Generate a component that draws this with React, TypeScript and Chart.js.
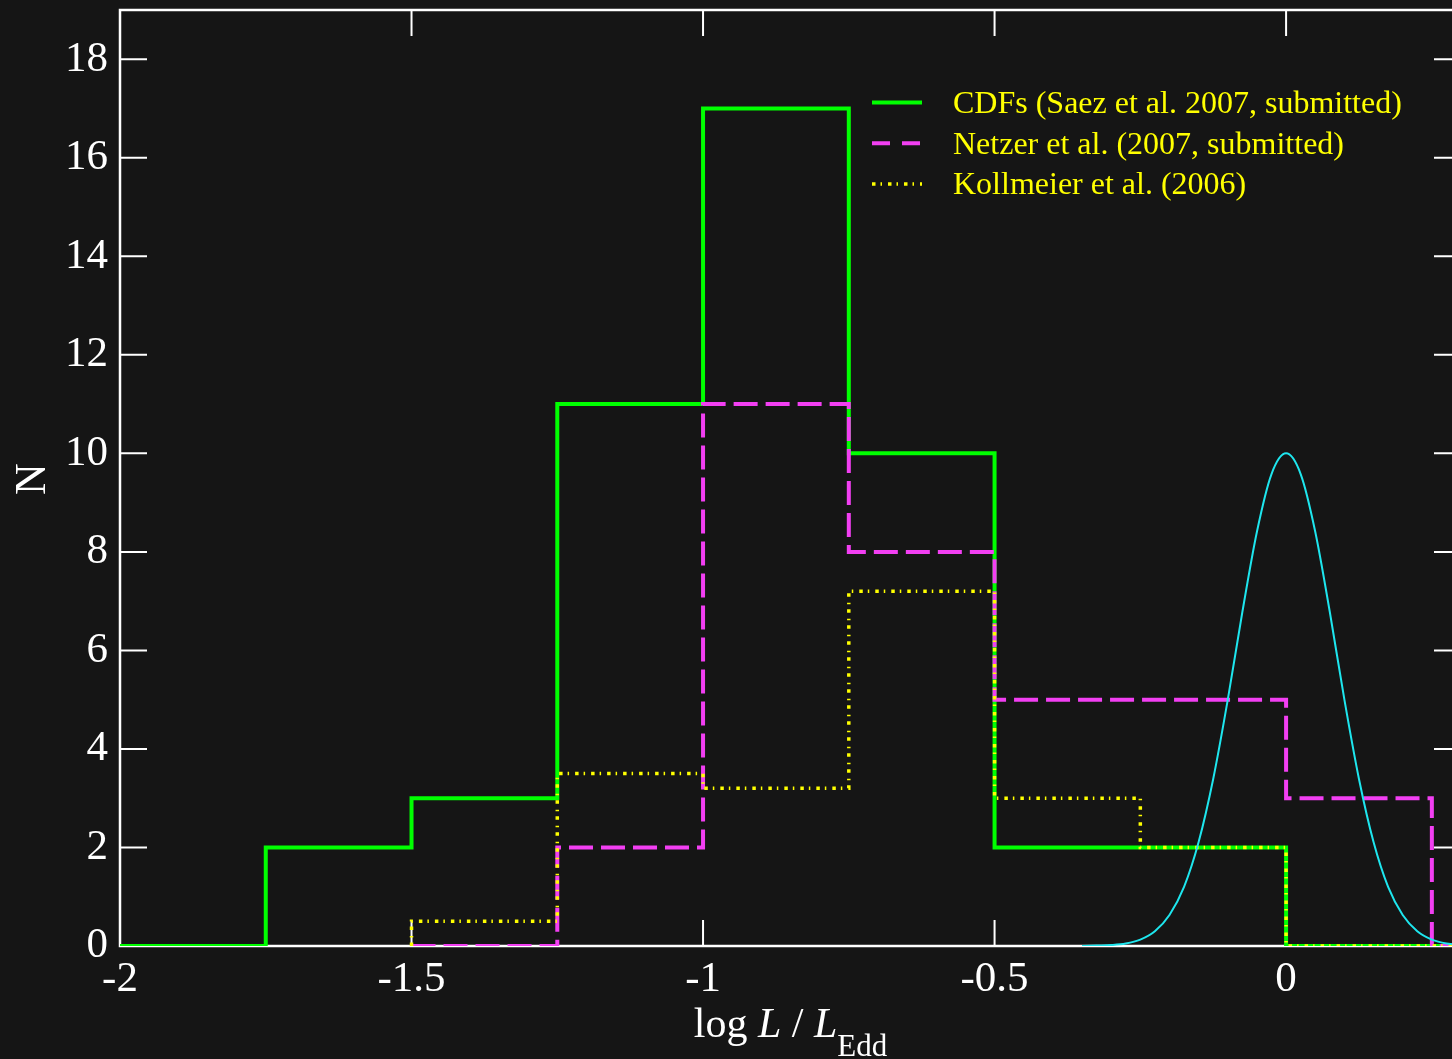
import React, { useEffect, useRef } from 'react';
import { Chart, registerables } from 'chart.js';

Chart.register(...registerables);

// ---------- data ----------
const cdfsEdges = [-2, -1.75, -1.5, -1.25, -1, -0.75, -0.5, -0.25, 0, 0.25, 0.3];
const cdfsCounts = [0, 2, 3, 11, 17, 10, 2, 2, 0, 0];

const netzerEdges = [-1.5, -1.25, -1, -0.75, -0.5, -0.25, 0, 0.25, 0.3];
const netzerCounts = [0, 2, 11, 8, 5, 5, 3, 0];

const kollmeierEdges = [-1.5, -1.25, -1, -0.75, -0.5, -0.25, 0, 0.25, 0.3];
const kollmeierCounts = [0.5, 3.5, 3.2, 7.2, 3, 2, 0, 0];

const curveX = [
  -0.35, -0.325, -0.3, -0.275, -0.25, -0.225, -0.2, -0.175, -0.15, -0.125, -0.1, -0.075, -0.05, -0.025,
  0, 0.025, 0.05, 0.075, 0.1, 0.125, 0.15, 0.175, 0.2, 0.225, 0.25, 0.275, 0.3,
];
const curveY = [
  0.0, 0.01, 0.02, 0.05, 0.13, 0.3, 0.63, 1.2, 2.11, 3.39, 5.0, 6.78, 8.41, 9.58,
  10.0, 9.58, 8.41, 6.78, 5.0, 3.39, 2.11, 1.2, 0.63, 0.3, 0.13, 0.05, 0.02,
];

const xTickLabels = [-2, -1.5, -1, -0.5, 0];
const yTickLabels = [0, 2, 4, 6, 8, 10, 12, 14, 16, 18];
const legendLabels = [
  'CDFs (Saez et al. 2007, submitted)',
  'Netzer et al. (2007, submitted)',
  'Kollmeier et al. (2006)',
];

// ---------- helpers ----------
function histPoints(edges: number[], counts: number[], startAtZero: boolean) {
  const pts: { x: number; y: number }[] = [];
  if (startAtZero) pts.push({ x: edges[0], y: 0 });
  counts.forEach((c, i) => {
    pts.push({ x: edges[i], y: c });
    pts.push({ x: edges[i + 1], y: c });
  });
  return pts;
}

const SERIF = '"Liberation Serif", "Times New Roman", Times, serif';
const GREEN = '#00ff00';
const MAGENTA = '#f23ff2';
const YELLOW = '#ffff00';
const CYAN = '#1ee6ee';
const MAGENTA_DASH = [24, 8];
const YELLOW_DASH = [3.5, 5, 1.5, 6];

const decorPlugin = {
  id: 'decor',
  beforeDatasetsDraw(chart: any) {
    const { ctx, chartArea: a, scales } = chart;
    ctx.save();
    ctx.strokeStyle = '#ffffff';
    ctx.lineWidth = 2;
    const xs = scales.x;
    xs.ticks.forEach((t: any) => {
      const px = xs.getPixelForValue(t.value);
      const major = xTickLabels.some((v) => Math.abs(v - t.value) < 1e-9);
      const len = major ? 26 : 13;
      ctx.beginPath();
      ctx.moveTo(px, a.bottom);
      ctx.lineTo(px, a.bottom - len);
      ctx.moveTo(px, a.top);
      ctx.lineTo(px, a.top + len);
      ctx.stroke();
    });
    const ys = scales.y;
    ys.ticks.forEach((t: any) => {
      const py = ys.getPixelForValue(t.value);
      const major = yTickLabels.some((v) => Math.abs(v - t.value) < 1e-9);
      const len = major ? 27 : 14;
      ctx.beginPath();
      ctx.moveTo(a.left, py);
      ctx.lineTo(a.left + len, py);
      ctx.moveTo(a.right, py);
      ctx.lineTo(a.right - len, py);
      ctx.stroke();
    });
    ctx.lineWidth = 2.5;
    ctx.strokeRect(a.left, a.top, a.right - a.left, a.bottom - a.top);
    ctx.restore();
  },
  afterDatasetsDraw(chart: any) {
    const { ctx } = chart;
    ctx.save();
    const styles = [
      { color: GREEN, dash: [] as number[], width: 4 },
      { color: MAGENTA, dash: [18, 12], width: 4 },
      { color: YELLOW, dash: YELLOW_DASH, width: 3.5 },
    ];
    const lx0 = 872;
    const lx1 = 922;
    const tx = 953;
    const y0 = 102;
    const dy = 40.7;
    ctx.font = `32px ${SERIF}`;
    ctx.textAlign = 'left';
    ctx.textBaseline = 'alphabetic';
    legendLabels.forEach((label, i) => {
      const y = y0 + i * dy;
      const s = styles[i];
      ctx.strokeStyle = s.color;
      ctx.lineWidth = s.width;
      ctx.setLineDash(s.dash);
      ctx.beginPath();
      ctx.moveTo(lx0, y + 0.5);
      ctx.lineTo(lx1, y + 0.5);
      ctx.stroke();
      ctx.setLineDash([]);
      ctx.fillStyle = YELLOW;
      ctx.fillText(label, tx, y + 11);
    });
    ctx.restore();
  },
  afterDraw(chart: any) {
    const { ctx, chartArea: a } = chart;
    ctx.save();
    ctx.fillStyle = '#ffffff';
    ctx.font = `44px ${SERIF}`;
    ctx.textAlign = 'center';
    ctx.textBaseline = 'middle';
    ctx.translate(33, 479);
    ctx.rotate(-Math.PI / 2);
    ctx.fillText('N', 0, 0);
    ctx.setTransform(1, 0, 0, 1, 0, 0);
    const parts = [
      { t: 'log ', f: `42px ${SERIF}`, dy: 0 },
      { t: 'L', f: `italic 42px ${SERIF}`, dy: 0 },
      { t: ' / ', f: `42px ${SERIF}`, dy: 0 },
      { t: 'L', f: `italic 42px ${SERIF}`, dy: 0 },
      { t: 'Edd', f: `31px ${SERIF}`, dy: 19 },
    ];
    let total = 0;
    parts.forEach((p) => {
      ctx.font = p.f;
      total += ctx.measureText(p.t).width;
    });
    let x = (a.left + a.right) / 2 - total / 2;
    const base = 1037;
    ctx.textAlign = 'left';
    ctx.textBaseline = 'alphabetic';
    parts.forEach((p) => {
      ctx.font = p.f;
      ctx.fillText(p.t, x, base + p.dy);
      x += ctx.measureText(p.t).width;
    });
    ctx.restore();
  },
};

export default function App() {
  const ref = useRef<HTMLCanvasElement | null>(null);

  useEffect(() => {
    if (!ref.current) return;
    const chart = new Chart(ref.current, {
      type: 'line',
      data: {
        datasets: [
          {
            label: legendLabels[0],
            data: histPoints(cdfsEdges, cdfsCounts, false),
            borderColor: GREEN,
            borderWidth: 4,
            pointRadius: 0,
            fill: false,
            order: 4,
          },
          {
            label: legendLabels[1],
            data: histPoints(netzerEdges, netzerCounts, true),
            borderColor: MAGENTA,
            borderWidth: 4,
            borderDash: MAGENTA_DASH,
            pointRadius: 0,
            fill: false,
            order: 3,
          },
          {
            label: legendLabels[2],
            data: histPoints(kollmeierEdges, kollmeierCounts, true),
            borderColor: YELLOW,
            borderWidth: 3.5,
            borderDash: YELLOW_DASH,
            pointRadius: 0,
            fill: false,
            order: 2,
          },
          {
            label: 'gaussian',
            data: curveX.map((x, i) => ({ x, y: curveY[i] })),
            borderColor: CYAN,
            borderWidth: 2,
            pointRadius: 0,
            fill: false,
            cubicInterpolationMode: 'monotone',
            order: 1,
          },
        ],
      },
      options: {
        responsive: false,
        animation: false,
        layout: { padding: { top: 10, right: 9, left: 0, bottom: 0 } },
        plugins: { legend: { display: false }, tooltip: { enabled: false } },
        scales: {
          x: {
            type: 'linear',
            min: -2,
            max: 0.3,
            grid: { display: false, drawTicks: false },
            border: { display: false },
            afterFit: (s: any) => {
              s.height = 113;
              s.paddingLeft = 0;
              s.paddingRight = 0;
              s.paddingTop = 0;
              s.paddingBottom = 0;
            },
            ticks: {
              stepSize: 0.25,
              autoSkip: false,
              maxRotation: 0,
              padding: 8,
              color: '#ffffff',
              font: { family: SERIF, size: 43 },
              callback: (v: any) =>
                xTickLabels.some((t) => Math.abs(t - v) < 1e-9) ? String(Number(v)) : null,
            },
          },
          y: {
            type: 'linear',
            min: 0,
            max: 19,
            grid: { display: false, drawTicks: false },
            border: { display: false },
            afterFit: (s: any) => {
              s.width = 120;
              s.paddingLeft = 0;
              s.paddingRight = 0;
              s.paddingTop = 0;
              s.paddingBottom = 0;
            },
            ticks: {
              stepSize: 1,
              autoSkip: false,
              padding: 12,
              color: '#ffffff',
              font: { family: SERIF, size: 43 },
              callback: (v: any) =>
                yTickLabels.some((t) => Math.abs(t - v) < 1e-9) ? String(Number(v)) : null,
            },
          },
        },
      },
      plugins: [decorPlugin],
    } as any);
    return () => chart.destroy();
  }, []);

  return (
    <div
      style={{
        position: 'fixed',
        left: 0,
        top: 0,
        width: 1452,
        height: 1059,
        overflow: 'hidden',
        background: '#151515',
      }}
    >
      <canvas ref={ref} width={1470} height={1059} style={{ display: 'block', width: 1470, height: 1059 }} />
    </div>
  );
}
